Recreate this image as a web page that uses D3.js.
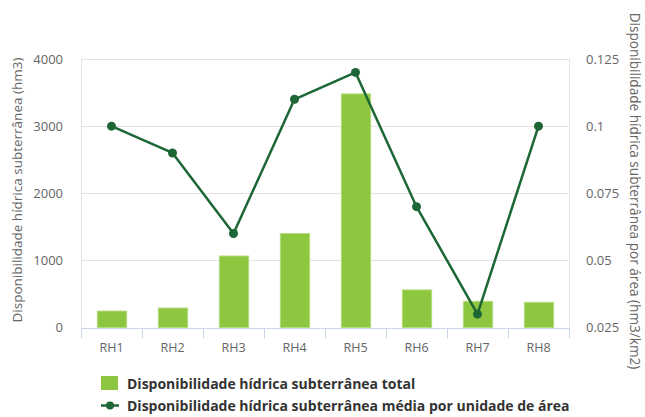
<!DOCTYPE html>
<html>
<head>
<meta charset="utf-8">
<script src="https://cdn.jsdelivr.net/npm/d3@7"></script>
<style>
  html, body { margin: 0; padding: 0; background: #fff; }
  svg { display: block; font-family: "Open Sans", "DejaVu Sans", sans-serif; }
</style>
</head>
<body>
<svg id="chart" width="645" height="417"></svg>
<script>
// Regiões hidrográficas
const categories = ["RH1", "RH2", "RH3", "RH4", "RH5", "RH6", "RH7", "RH8"];
// Disponibilidade hídrica subterrânea total (hm3)
const totalValues = [245, 290, 1065, 1400, 3480, 560, 390, 375];
// Disponibilidade média por unidade de área (hm3/km2)
const perAreaValues = [0.1, 0.09, 0.06, 0.11, 0.12, 0.07, 0.03, 0.1];
// Ticks dos eixos
const leftTicks = [0, 1000, 2000, 3000, 4000];
const rightTicks = [0.025, 0.05, 0.075, 0.1, 0.125];
const leftTitle = "Disponibilidade hídrica subterrânea (hm3)";
const rightTitle = "Disponibilidade hídrica subterrânea por área (hm3/km2)";
const legendLabels = ["Disponibilidade hídrica subterrânea total",
                      "Disponibilidade hídrica subterrânea média por unidade de área"];

const barColor = "#8dc63f";
const barStroke = "#b3dc7c";
const lineColor = "#1d6636";
const gridColor = "#e3e3e3";
const textColor = "#666";

const svg = d3.select("#chart");
const plot = { left: 81, right: 569, top: 59, bottom: 327.5 };

const x = d3.scaleBand().domain(categories).range([plot.left, plot.right]).paddingInner(0.52).paddingOuter(0.26);
const xBand = d3.scaleBand().domain(categories).range([plot.left, plot.right]);
const yL = d3.scaleLinear().domain([0, 4000]).range([plot.bottom, plot.top]);
const yR = d3.scaleLinear().domain([0.025, 0.125]).range([plot.bottom, plot.top]);

// grade horizontal
svg.append("g").selectAll("line").data(leftTicks.slice(1)).join("line")
  .attr("x1", plot.left).attr("x2", plot.right)
  .attr("y1", d => Math.round(yL(d)) + 0.5).attr("y2", d => Math.round(yL(d)) + 0.5)
  .attr("stroke", gridColor).attr("stroke-width", 1);

// bordas laterais
svg.append("line").attr("x1", plot.left + 0.5).attr("x2", plot.left + 0.5)
  .attr("y1", plot.top).attr("y2", plot.bottom).attr("stroke", gridColor);
svg.append("line").attr("x1", plot.right + 0.5).attr("x2", plot.right + 0.5)
  .attr("y1", plot.top).attr("y2", plot.bottom).attr("stroke", gridColor);

// barras
svg.append("g").selectAll("rect").data(categories).join("rect")
  .attr("x", (d) => x(d) + 0.5)
  .attr("y", (d, i) => yL(totalValues[i]))
  .attr("width", x.bandwidth())
  .attr("height", (d, i) => plot.bottom - yL(totalValues[i]))
  .attr("fill", barColor).attr("stroke", barStroke).attr("stroke-width", 1);

// eixo x
const xAxis = svg.append("g").attr("transform", `translate(0,${Math.round(plot.bottom) + 0.5})`);
xAxis.append("line").attr("x1", plot.left).attr("x2", plot.right + 1).attr("stroke", "#ccd6eb");
const bounds = categories.map(c => xBand(c)).concat([plot.right]);
xAxis.selectAll("line.tick").data(bounds).join("line").attr("class", "tick")
  .attr("x1", d => Math.round(d) + 0.5).attr("x2", d => Math.round(d) + 0.5)
  .attr("y1", 0).attr("y2", 10).attr("stroke", "#ccd6eb");
xAxis.selectAll("text").data(categories).join("text")
  .attr("x", d => xBand(d) + xBand.bandwidth() / 2).attr("y", 23)
  .attr("text-anchor", "middle").attr("fill", textColor).attr("font-size", 12.5)
  .text(d => d);

// eixo esquerdo
svg.append("g").selectAll("text").data(leftTicks).join("text")
  .attr("x", 63).attr("y", d => yL(d) + 4.5)
  .attr("text-anchor", "end").attr("fill", textColor).attr("font-size", 13)
  .text(d => d);

// eixo direito
svg.append("g").selectAll("text").data(rightTicks).join("text")
  .attr("x", 586).attr("y", d => yR(d) + 4.5)
  .attr("text-anchor", "start").attr("fill", textColor).attr("font-size", 13)
  .text(d => d);

// títulos dos eixos
svg.append("text").attr("transform", "translate(22,190) rotate(-90)")
  .attr("text-anchor", "middle").attr("fill", textColor).attr("font-size", 13.5)
  .text(leftTitle);
svg.append("text").attr("transform", "translate(630,191) rotate(90)")
  .attr("text-anchor", "middle").attr("fill", textColor).attr("font-size", 13.6)
  .text(rightTitle);

// linha
const line = d3.line().x((d, i) => xBand(categories[i]) + xBand.bandwidth() / 2).y(d => yR(d));
svg.append("path").datum(perAreaValues).attr("d", line)
  .attr("fill", "none").attr("stroke", lineColor).attr("stroke-width", 2.5).attr("stroke-linejoin", "round");
svg.append("g").selectAll("circle").data(perAreaValues).join("circle")
  .attr("cx", (d, i) => xBand(categories[i]) + xBand.bandwidth() / 2)
  .attr("cy", d => yR(d)).attr("r", 4.5).attr("fill", lineColor);

// legenda
const legend = svg.append("g");
legend.append("rect").attr("x", 101).attr("y", 376).attr("width", 17).attr("height", 14).attr("fill", barColor);
legend.append("text").attr("x", 127).attr("y", 388.5).attr("fill", "#333")
  .attr("font-size", 14).attr("font-weight", "bold").text(legendLabels[0]);
legend.append("line").attr("x1", 101).attr("x2", 119).attr("y1", 405.5).attr("y2", 405.5)
  .attr("stroke", lineColor).attr("stroke-width", 2.5);
legend.append("circle").attr("cx", 110).attr("cy", 405.5).attr("r", 4).attr("fill", lineColor);
legend.append("text").attr("x", 127).attr("y", 410.5).attr("fill", "#333")
  .attr("font-size", 14).attr("font-weight", "bold").text(legendLabels[1]);
</script>
</body>
</html>
